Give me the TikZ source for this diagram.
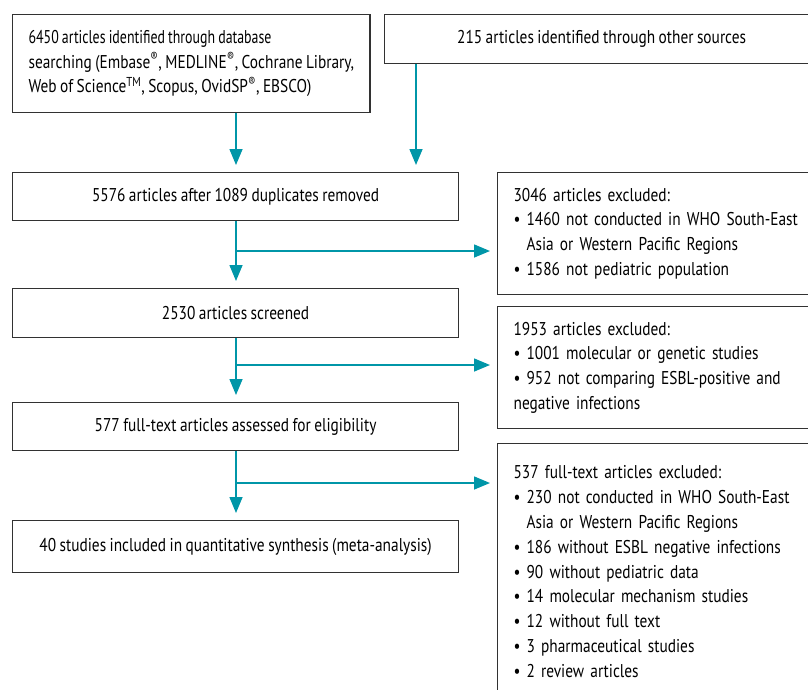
\documentclass[tikz,border=0pt]{standalone}
\usepackage{fontspec}
\setmainfont[FakeStretch=0.83,WordSpace=0.85]{PT Sans}
\usepackage{tikz}
\usetikzlibrary{arrows.meta}

\definecolor{flowteal}{RGB}{0,150,168}
\definecolor{boxline}{RGB}{50,50,50}
\newcommand{\bitem}[1]{\par\hangindent=13pt\hangafter=1\noindent\makebox[13pt][l]{\textbullet}#1}

\tikzset{
  stage/.style={draw=boxline, line width=1.2pt, anchor=north west, inner xsep=16pt, inner ysep=0pt,
    font=\fontsize{18.5}{24.8}\selectfont},
  excl/.style={stage, align=left, text width=298pt},
  flow/.style={draw=flowteal, line width=1.5pt, -{Triangle[length=16pt,width=13pt]}, shorten >=7pt}
}

\begin{document}
\begin{tikzpicture}[x=1pt,y=-1pt]
\useasboundingbox (0,0) rectangle (808,689);
\clip (0,0) rectangle (808,689);

\node[stage, align=left, minimum width=356pt, minimum height=98pt] (db) at (12,14)
  {\addfontfeature{FakeStretch=0.75}6450 articles identified through database\\
   searching (Embase\textsuperscript{\textregistered}, MEDLINE\textsuperscript{\textregistered}, Cochrane Library,\\
   Web of Science\textsuperscript{TM}, Scopus, OvidSP\textsuperscript{\textregistered}, EBSCO)};
\node[stage, minimum width=434pt, minimum height=49pt] (other) at (384,14)
  {215 articles identified through other sources};

\node[stage, minimum width=446pt, minimum height=48pt] (dup) at (12,172)
  {5576 articles after 1089 duplicates removed};
\node[stage, minimum width=446pt, minimum height=49pt] (scr) at (12,288)
  {2530 articles screened};
\node[stage, minimum width=446pt, minimum height=48pt] (full) at (12,402)
  {577 full-text articles assessed for eligibility};
\node[stage, minimum width=446pt, minimum height=52pt] (incl) at (12,520)
  {40 studies included in quantitative synthesis (meta-analysis)};

\node[excl, minimum height=122pt] (ex1) at (497,172)
  {3046 articles excluded:
   \bitem{1460 not conducted in WHO South-East\newline Asia or Western Pacific Regions}
   \bitem{1586 not pediatric population}};
\node[excl, minimum height=122pt] (ex2) at (497,306)
  {1953 articles excluded:
   \bitem{1001 molecular or genetic studies}
   \bitem{952 not comparing ESBL-positive and\newline negative infections}};
\node[excl, minimum height=256pt] (ex3) at (497,443)
  {537 full-text articles excluded:
   \bitem{230 not conducted in WHO South-East\newline Asia or Western Pacific Regions}
   \bitem{186 without ESBL negative infections}
   \bitem{90 without pediatric data}
   \bitem{14 molecular mechanism studies}
   \bitem{12 without full text}
   \bitem{3 pharmaceutical studies}
   \bitem{2 review articles}};

\coordinate (trunk) at (236,0);
\coordinate (side) at (416,0);
\coordinate (b1) at (236,251);
\coordinate (b2) at (236,365);
\coordinate (b3) at (236,483);

\draw[flow] (db.south -| trunk) -- (dup.north -| trunk);
\draw[flow] (other.south -| side) -- (dup.north -| side);
\draw[flow] (dup.south -| trunk) -- (scr.north -| trunk);
\draw[flow] (b1) -- (b1 -| ex1.west);
\draw[flow] (scr.south -| trunk) -- (full.north -| trunk);
\draw[flow] (b2) -- (b2 -| ex2.west);
\draw[flow] (full.south -| trunk) -- (incl.north -| trunk);
\draw[flow] (b3) -- (b3 -| ex3.west);
\end{tikzpicture}
\end{document}
